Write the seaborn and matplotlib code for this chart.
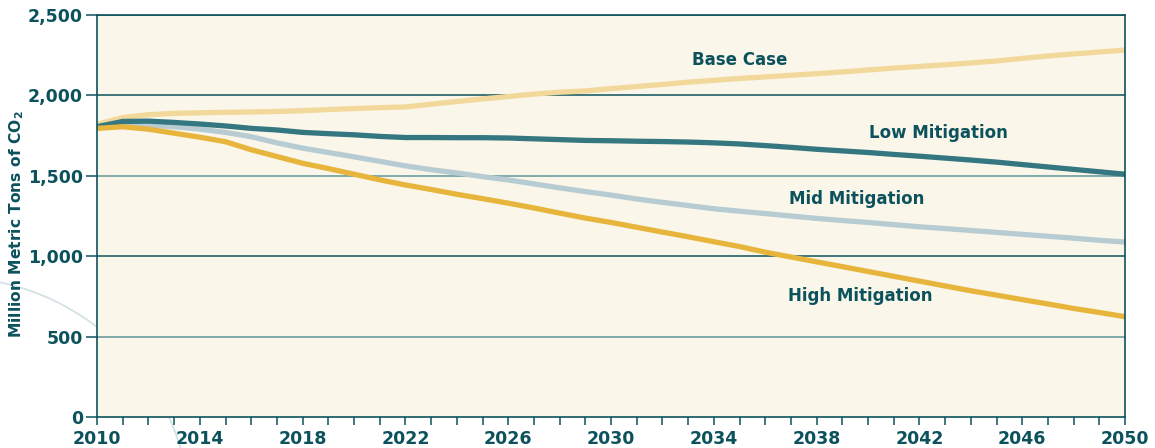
import numpy as np
import pandas as pd
import matplotlib
matplotlib.use("Agg")
import matplotlib.pyplot as plt
from matplotlib.patches import Ellipse
import seaborn as sns

years = list(range(2010, 2051))
base_case = [1820, 1862, 1880, 1888, 1892, 1895, 1897, 1900, 1905, 1912, 1918, 1924, 1928,
             1945, 1962, 1978, 1993, 2008, 2020, 2028, 2042, 2055, 2068, 2082, 2094, 2105,
             2115, 2125, 2135, 2146, 2158, 2170, 2180, 2190, 2202, 2214, 2230, 2245, 2258,
             2270, 2282]
low_mitigation = [1805, 1838, 1840, 1832, 1822, 1810, 1795, 1785, 1770, 1762, 1755, 1745, 1738,
                  1738, 1737, 1737, 1735, 1730, 1725, 1720, 1718, 1715, 1713, 1710, 1705, 1698,
                  1688, 1677, 1665, 1655, 1645, 1633, 1622, 1610, 1598, 1585, 1570, 1555, 1540,
                  1525, 1510]
mid_mitigation = [1805, 1830, 1815, 1805, 1790, 1770, 1743, 1705, 1672, 1645, 1618, 1590, 1562,
                  1538, 1518, 1495, 1474, 1450, 1425, 1402, 1380, 1356, 1335, 1315, 1295, 1280,
                  1265, 1250, 1235, 1222, 1210, 1196, 1183, 1172, 1160, 1148, 1136, 1124, 1112,
                  1099, 1088]
high_mitigation = [1795, 1805, 1790, 1765, 1740, 1712, 1662, 1620, 1578, 1545, 1510, 1475, 1443,
                   1415, 1385, 1358, 1330, 1300, 1268, 1237, 1210, 1180, 1150, 1121, 1090, 1060,
                   1025, 995, 965, 935, 905, 875, 845, 815, 785, 758, 730, 703, 675, 650, 624]
series_names = ["Base Case", "Low Mitigation", "Mid Mitigation", "High Mitigation"]
y_ticks = [0, 500, 1000, 1500, 2000, 2500]
x_label_years = list(range(2010, 2051, 4))

TEAL = "#0c525d"
colors = {"Base Case": "#f2d99b", "Low Mitigation": "#357780",
          "Mid Mitigation": "#b6ccd2", "High Mitigation": "#e7b53b"}

df = pd.DataFrame({
    "Year": years * 4,
    "Value": base_case + low_mitigation + mid_mitigation + high_mitigation,
    "Scenario": sum([[n] * len(years) for n in series_names], []),
})

sns.set_style("white")
plt.rcParams["font.family"] = ["DejaVu Sans"]
FW = "bold"

fig = plt.figure(figsize=(11.55, 4.48), dpi=100)
ax = fig.add_axes([97 / 1155, 31 / 448, (1125 - 97) / 1155, (417 - 15) / 448])
ax.set_facecolor("#fbf6ea")

# decorative arc behind the chart
arc = Ellipse((-50 / 1155, -70 / 448), 482 / 1155, 482 / 448, transform=fig.transFigure,
              fill=False, edgecolor="#d3e2e5", lw=1.3, zorder=-1)
fig.patches.append(arc)

# gridlines
for v in y_ticks[1:]:
    c = TEAL if v in (1000, 2000, 2500) else "#5f9599"
    ax.axhline(v, color=c, lw=1.1, zorder=1)

sns.lineplot(data=df, x="Year", y="Value", hue="Scenario", palette=colors,
             hue_order=["Base Case", "Mid Mitigation", "Low Mitigation", "High Mitigation"],
             lw=3.8, legend=False, ax=ax, zorder=3, solid_capstyle="round")

ax.set_xlim(2010, 2050)
ax.set_ylim(0, 2500)
ax.set_xticks(x_label_years)
ax.set_xticks(years, minor=True)
ax.set_xticklabels([str(y) for y in x_label_years])
ax.set_yticks(y_ticks)
ax.set_yticklabels([f"{v:,}" for v in y_ticks])
ax.tick_params(axis="x", which="both", direction="out", length=6, width=1.1,
               color=TEAL, bottom=True)
ax.tick_params(axis="x", which="major", labelsize=12.5, labelcolor=TEAL, pad=3)
ax.tick_params(axis="y", direction="out", length=8, width=1.1, color=TEAL,
               labelsize=12.5, labelcolor=TEAL, pad=2, left=True)
for lab in ax.get_xticklabels() + ax.get_yticklabels():
    lab.set_fontweight(FW)

for s in ax.spines.values():
    s.set_color(TEAL)
    s.set_linewidth(1.2)
    s.set_zorder(4)

ax.set_xlabel("")
ax.set_ylabel("Million Metric Tons of CO$_\\mathbf{2}$", fontsize=11.2, fontweight=FW,
              color=TEAL)
ax.yaxis.set_label_coords(-0.069, 0.48)

label_style = dict(fontsize=12, fontweight=FW, color=TEAL, ha="center", va="center")
ax.text(2035.0, 2220, "Base Case", **label_style)
ax.text(2042.75, 1766, "Low Mitigation", **label_style)
ax.text(2039.55, 1356, "Mid Mitigation", **label_style)
ax.text(2039.7, 752, "High Mitigation", **label_style)

fig.savefig("out.png", dpi=100)
